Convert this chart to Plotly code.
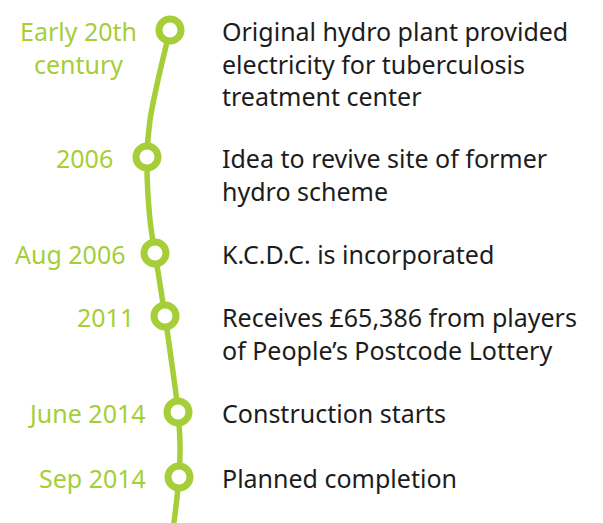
import plotly.graph_objects as go

# Timeline data
dates = ["Early 20th<br>century", "2006", "Aug 2006", "2011", "June 2014", "Sep 2014"]
events = [
    "Original hydro plant provided<br>electricity for tuberculosis<br>treatment center",
    "Idea to revive site of former<br>hydro scheme",
    "K.C.D.C. is incorporated",
    "Receives £65,386 from players<br>of People\u2019s Postcode Lottery",
    "Construction starts",
    "Planned completion",
]
node_x = [170, 147, 155, 165, 178, 179]
node_y = [30, 157, 253, 316, 412, 477]
label_right = [139, 115, 128, 136, 148, 148]

# path of the winding line (passes through nodes)
path_x = [170, 158, 150, 147, 150, 155, 165, 173, 178, 180, 179, 173]
path_y = [30, 80, 120, 157, 220, 253, 316, 372, 412, 445, 477, 530]

GREEN = "#a6ce39"
DARK = "#1c1c1c"
FONT = "Noto Sans"
SIZE = 25

fig = go.Figure()
fig.add_trace(go.Scatter(x=path_x, y=path_y, mode="lines",
                         line=dict(color=GREEN, width=5.5, shape="spline", smoothing=1.0),
                         hoverinfo="skip", showlegend=False))
fig.add_trace(go.Scatter(x=node_x, y=node_y, mode="markers",
                         marker=dict(size=22, color="white", line=dict(color=GREEN, width=7)),
                         hoverinfo="skip", showlegend=False))

annotations = []
for i, (d, e) in enumerate(zip(dates, events)):
    multi = "<br>" in d
    annotations.append(dict(x=(label_right[i] if not multi else 139), y=node_y[i],
                            xref="x", yref="y", text=d, showarrow=False,
                            xanchor="right", yanchor="top", yshift=18,
                            align="center" if multi else "right",
                            font=dict(family=FONT, size=SIZE, color=GREEN)))
    annotations.append(dict(x=220, y=node_y[i], xref="x", yref="y", text=e,
                            showarrow=False, xanchor="left", yanchor="top", yshift=18,
                            align="left",
                            font=dict(family=FONT, size=SIZE, color=DARK)))

fig.update_layout(
    width=603, height=523,
    margin=dict(l=0, r=0, t=0, b=0),
    paper_bgcolor="white", plot_bgcolor="white",
    xaxis=dict(range=[0, 603], visible=False, fixedrange=True),
    yaxis=dict(range=[523, 0], visible=False, fixedrange=True),
    annotations=annotations,
)
fig.write_html("out.html", config={"displayModeBar": False},
               post_script="document.body.style.margin='0';document.body.style.overflow='hidden';")
